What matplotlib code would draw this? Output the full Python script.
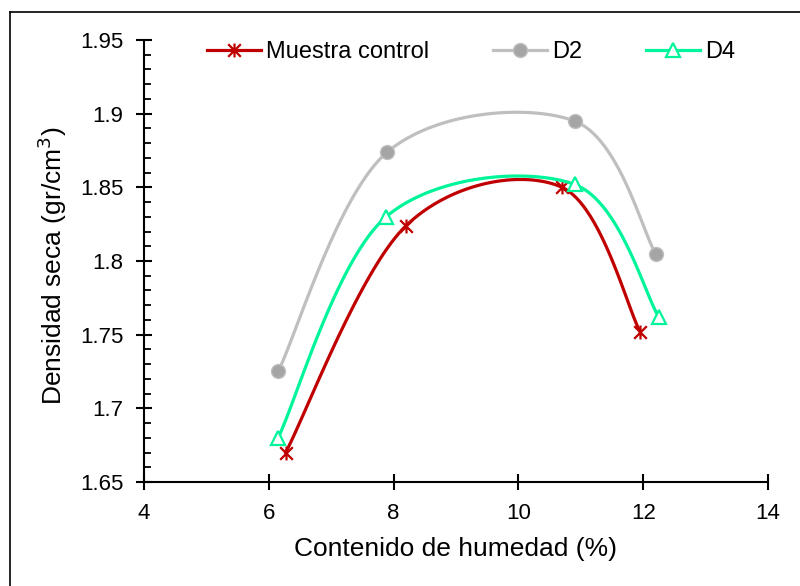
import numpy as np
import matplotlib
matplotlib.use("Agg")
import matplotlib.pyplot as plt
from matplotlib.path import Path
from matplotlib.lines import Line2D

plt.rcParams['font.family'] = ['Liberation Sans', 'DejaVu Sans']

# Data
series_names = ["Muestra control", "D2", "D4"]
x_control = [6.27, 8.2, 10.7, 11.95]
y_control = [1.670, 1.824, 1.850, 1.752]
x_d2 = [6.15, 7.9, 10.9, 12.2]
y_d2 = [1.725, 1.874, 1.895, 1.805]
x_d4 = [6.15, 7.88, 10.9, 12.25]
y_d4 = [1.680, 1.830, 1.852, 1.762]

x_ticks = [4, 6, 8, 10, 12, 14]
y_ticks = [1.65, 1.7, 1.75, 1.8, 1.85, 1.9, 1.95]
y_tick_labels = ["1.65", "1.7", "1.75", "1.8", "1.85", "1.9", "1.95"]


def smooth(xs, ys, n=40):
    """Excel-style smoothed line (Catmull-Rom Bezier) through the points."""
    P = np.column_stack([xs, ys]).astype(float)
    m = len(P)
    out = [P[0]]
    t = np.linspace(0, 1, n)[1:]
    for i in range(m - 1):
        p0 = P[i - 1] if i > 0 else P[i]
        p1 = P[i]
        p2 = P[i + 1]
        p3 = P[i + 2] if i + 2 < m else P[i + 1]
        c1 = p1 + (p2 - p0) / 6.0
        c2 = p2 - (p3 - p1) / 6.0
        for tt in t:
            b = ((1 - tt) ** 3) * p1 + 3 * ((1 - tt) ** 2) * tt * c1 + 3 * (1 - tt) * tt ** 2 * c2 + tt ** 3 * p2
            out.append(b)
    out = np.array(out)
    return out[:, 0], out[:, 1]


star = Path([(-1, -1), (1, 1), (-1, 1), (1, -1), (0, -1.1), (0, 1.1)],
            [Path.MOVETO, Path.LINETO, Path.MOVETO, Path.LINETO, Path.MOVETO, Path.LINETO])

fig = plt.figure(figsize=(8, 5.86), dpi=100)
ax = fig.add_axes([0.18, 0.1775, 0.78, 0.7542])

red = "#C00000"
gray_line = "#BFBFBF"
gray_mk = "#A5A5A5"
green = "#00F59A"

sx, sy = smooth(x_d2, y_d2)
ax.plot(sx, sy, color=gray_line, lw=2.3, solid_capstyle='round', zorder=2)
ax.plot(x_d2, y_d2, ls='none', marker='o', ms=10, mfc=gray_mk, mec=gray_line, mew=1, zorder=3)

sx, sy = smooth(x_control, y_control)
ax.plot(sx, sy, color=red, lw=2.3, zorder=4)
ax.plot(x_control, y_control, ls='none', marker=star, ms=10, mfc='none', mec=red, mew=1.6, zorder=5)

sx, sy = smooth(x_d4, y_d4)
ax.plot(sx, sy, color=green, lw=2.3, zorder=6)
ax.plot(x_d4, y_d4, ls='none', marker='^', ms=10.5, mfc='white', mec=green, mew=1.6, zorder=7)

ax.set_xlim(4, 14)
ax.set_ylim(1.65, 1.95)
ax.set_xticks(x_ticks)
ax.set_yticks(y_ticks)
ax.set_yticklabels(y_tick_labels)
ax.set_yticks(np.arange(1.65, 1.9501, 0.01), minor=True)

for s in ['top', 'right']:
    ax.spines[s].set_visible(False)
for s in ['left', 'bottom']:
    ax.spines[s].set_linewidth(1.5)
    ax.spines[s].set_color('black')

ax.tick_params(axis='both', which='major', direction='inout', length=12, width=1.5,
               labelsize=16, colors='black')
ax.tick_params(axis='y', which='major', pad=9)
ax.tick_params(axis='x', which='major', pad=9)
ax.tick_params(axis='y', which='minor', direction='in', length=5, width=1.3)

ax.set_xlabel("Contenido de humedad (%)", fontsize=19, va='center')
ax.xaxis.set_label_coords(0.5, (482 - 549) / 442)
ax.set_ylabel("Densidad seca (gr/cm$^3$)", fontsize=19, va='center')
ax.yaxis.set_label_coords((52 - 144) / 624, 0.49)

handles = [
    Line2D([], [], color=red, lw=2.3, marker=star, ms=10, mfc='none', mec=red, mew=1.6),
    Line2D([], [], color=gray_line, lw=2.3, marker='o', ms=10, mfc=gray_mk, mec=gray_line),
    Line2D([], [], color=green, lw=2.3, marker='^', ms=10.5, mfc='white', mec=green, mew=1.6),
]
fig.legend(handles, series_names, loc='center left', bbox_to_anchor=(207 / 800, 1 - 52 / 586),
           ncol=3, frameon=False, fontsize=17, handlelength=2.3, handletextpad=0.2,
           columnspacing=2.7, borderpad=0, borderaxespad=0)

# outer chart border (top and left visible)
fig.add_artist(Line2D([10 / 800, 10 / 800], [0, 1 - 12 / 586], transform=fig.transFigure, color='black', lw=1.2))
fig.add_artist(Line2D([10 / 800, 1], [1 - 12 / 586, 1 - 12 / 586], transform=fig.transFigure, color='black', lw=1.2))

fig.savefig("out.png", dpi=100)
